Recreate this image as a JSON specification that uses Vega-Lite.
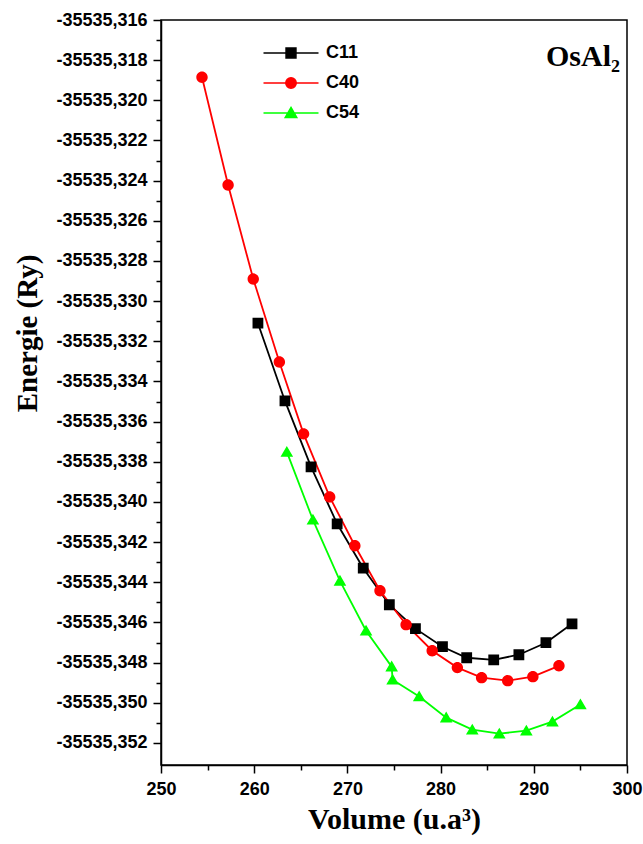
{
  "$schema": "https://vega.github.io/schema/vega-lite/v6.json",
  "width": 466,
  "height": 745,
  "autosize": "none",
  "padding": {"left": 161, "top": 20, "right": 16, "bottom": 79},
  "background": "white",
  "config": {
    "view": {"stroke": "black", "strokeWidth": 1.5},
    "axis": {"domainColor": "black", "domainWidth": 1.5, "tickColor": "black", "tickWidth": 1.5, "grid": false, "labelColor": "black", "titleColor": "black"}
  },
  "title": {
    "text": "OsAl₂",
    "orient": "top",
    "anchor": "end",
    "frame": "group",
    "offset": -85,
    "dx": -7,
    "baseline": "alphabetic",
    "font": "Liberation Serif",
    "fontSize": 30,
    "fontWeight": "bold",
    "color": "black"
  },
  "data": {
    "values": [
      {"phase": "C11", "volume": 260.4, "energie": -35535.3311},
      {"phase": "C11", "volume": 263.3, "energie": -35535.33497},
      {"phase": "C11", "volume": 266.1, "energie": -35535.33825},
      {"phase": "C11", "volume": 268.9, "energie": -35535.34109},
      {"phase": "C11", "volume": 271.7, "energie": -35535.3433},
      {"phase": "C11", "volume": 274.5, "energie": -35535.34512},
      {"phase": "C11", "volume": 277.3, "energie": -35535.34631},
      {"phase": "C11", "volume": 280.2, "energie": -35535.34721},
      {"phase": "C11", "volume": 282.8, "energie": -35535.34776},
      {"phase": "C11", "volume": 285.7, "energie": -35535.34786},
      {"phase": "C11", "volume": 288.4, "energie": -35535.34761},
      {"phase": "C11", "volume": 291.3, "energie": -35535.34701},
      {"phase": "C11", "volume": 294.1, "energie": -35535.34607},
      {"phase": "C40", "volume": 254.4, "energie": -35535.31885},
      {"phase": "C40", "volume": 257.2, "energie": -35535.32422},
      {"phase": "C40", "volume": 259.9, "energie": -35535.3289},
      {"phase": "C40", "volume": 262.7, "energie": -35535.33303},
      {"phase": "C40", "volume": 265.3, "energie": -35535.33661},
      {"phase": "C40", "volume": 268.1, "energie": -35535.33975},
      {"phase": "C40", "volume": 270.8, "energie": -35535.34218},
      {"phase": "C40", "volume": 273.5, "energie": -35535.34442},
      {"phase": "C40", "volume": 276.3, "energie": -35535.34611},
      {"phase": "C40", "volume": 279.1, "energie": -35535.34741},
      {"phase": "C40", "volume": 281.8, "energie": -35535.34825},
      {"phase": "C40", "volume": 284.4, "energie": -35535.34875},
      {"phase": "C40", "volume": 287.2, "energie": -35535.3489},
      {"phase": "C40", "volume": 289.9, "energie": -35535.3487},
      {"phase": "C40", "volume": 292.7, "energie": -35535.34816},
      {"phase": "C54", "volume": 263.5, "energie": -35535.33751},
      {"phase": "C54", "volume": 266.3, "energie": -35535.34089},
      {"phase": "C54", "volume": 269.2, "energie": -35535.34393},
      {"phase": "C54", "volume": 272.0, "energie": -35535.34641},
      {"phase": "C54", "volume": 274.75, "energie": -35535.3482},
      {"phase": "C54", "volume": 274.85, "energie": -35535.34885},
      {"phase": "C54", "volume": 277.7, "energie": -35535.34969},
      {"phase": "C54", "volume": 280.6, "energie": -35535.35074},
      {"phase": "C54", "volume": 283.4, "energie": -35535.35134},
      {"phase": "C54", "volume": 286.3, "energie": -35535.35154},
      {"phase": "C54", "volume": 289.2, "energie": -35535.35139},
      {"phase": "C54", "volume": 292.0, "energie": -35535.35094},
      {"phase": "C54", "volume": 295.0, "energie": -35535.35009}
    ]
  },
  "encoding": {
    "x": {
      "field": "volume",
      "type": "quantitative",
      "scale": {"domain": [250, 300], "nice": false, "zero": false},
      "axis": {
        "title": "Volume (u.a³)",
        "titleFont": "Liberation Serif",
        "titleFontSize": 30,
        "titleFontWeight": "bold",
        "titleBaseline": "alphabetic",
        "titleY": 63,
        "values": [250, 255, 260, 265, 270, 275, 280, 285, 290, 295, 300],
        "labelExpr": "datum.value % 10 == 0 ? datum.label : ''",
        "tickSize": {"condition": {"test": "datum.value % 10 == 0", "value": 8}, "value": 5},
        "labelPadding": 7,
        "labelFont": "Liberation Sans",
        "labelFontSize": 18,
        "labelFontWeight": "bold",
        "labelFlush": false,
        "labelOverlap": false
      }
    },
    "y": {
      "field": "energie",
      "type": "quantitative",
      "scale": {"domain": [-35535.3531, -35535.316], "nice": false, "zero": false},
      "axis": {
        "title": "Energie (Ry)",
        "titleFont": "Liberation Serif",
        "titleFontSize": 29,
        "titleFontWeight": "bold",
        "titleAngle": 270,
        "titleBaseline": "middle",
        "titleAlign": "center",
        "titleX": -134,
        "titleY": 313,
        "values": [-35535.316, -35535.317, -35535.318, -35535.319, -35535.32, -35535.321, -35535.322, -35535.323, -35535.324, -35535.325, -35535.326, -35535.327, -35535.328, -35535.329, -35535.33, -35535.331, -35535.332, -35535.333, -35535.334, -35535.335, -35535.336, -35535.337, -35535.338, -35535.339, -35535.34, -35535.341, -35535.342, -35535.343, -35535.344, -35535.345, -35535.346, -35535.347, -35535.348, -35535.349, -35535.35, -35535.351, -35535.352],
        "labelExpr": "round(datum.value*1000) % 2 == 0 ? replace(replace(format(datum.value, '.3f'), '.', ','), '\u2212', '-') : ''",
        "tickSize": {"condition": {"test": "round(datum.value*1000) % 2 == 0", "value": 8}, "value": 5},
        "labelPadding": 6,
        "labelFont": "Liberation Sans",
        "labelFontSize": 18,
        "labelFontWeight": "bold",
        "labelFlush": false,
        "labelOverlap": false
      }
    },
    "color": {
      "field": "phase",
      "type": "nominal",
      "scale": {"domain": ["C11", "C40", "C54"], "range": ["#000000", "#ff0000", "#00ff00"]},
      "legend": {
        "title": null,
        "orient": "none",
        "legendX": 121,
        "legendY": 24,
        "padding": 0,
        "symbolSize": 121,
        "symbolStrokeWidth": 1.5,
        "labelOffset": 26,
        "labelFont": "Liberation Sans",
        "labelFontSize": 18,
        "labelFontWeight": "bold",
        "labelColor": "black",
        "rowPadding": 12
      }
    }
  },
  "layer": [
    {
      "mark": {"type": "line", "strokeWidth": 1.8}
    },
    {
      "mark": {"type": "point", "filled": true, "opacity": 1, "size": 144},
      "encoding": {
        "shape": {
          "field": "phase",
          "type": "nominal",
          "scale": {"domain": ["C11", "C40", "C54"], "range": ["M-5,0H5M-0.9,-0.9H0.9V0.9H-0.9Z", "M-5,0H5M-0.95,0A0.95,0.95,0,1,0,0.95,0A0.95,0.95,0,1,0,-0.95,0Z", "M-5,0H5M0,-1L1.05,0.8H-1.05Z"]},
          "legend": null
        }
      }
    }
  ]
}
